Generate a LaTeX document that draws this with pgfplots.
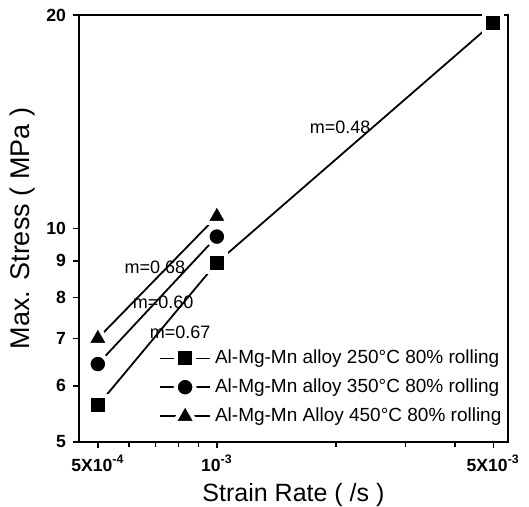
\documentclass[border=0pt]{standalone}
\usepackage{pgfplots}
\pgfplotsset{compat=1.18}
\usepackage{fontspec}
\setmainfont{Liberation Sans}

\begin{document}
\begin{tikzpicture}
\begin{axis}[
  xmode=log, ymode=log,
  scale only axis, width=214.5pt, height=213.5pt,
  xmin=4.48e-4, xmax=5.45e-3, ymin=5, ymax=20,
  xtick={5e-4,1e-3,5e-3},
  xticklabels={5X10\textsuperscript{-4},10\textsuperscript{-3},5X10\textsuperscript{-3}},
  minor xtick={6e-4,7e-4,8e-4,9e-4,2e-3,3e-3,4e-3},
  ytick={5,6,7,8,9,10,20}, yticklabels={5,6,7,8,9,10,20},
  minor ytick={},
  xtick pos=bottom, ytick pos=left, tick align=outside,
  major tick length=3pt, minor tick length=2.5pt,
  tick style={black, line width=0.7pt},
  axis line style={line width=0.8pt},
  axis on top,
  tick label style={font=\fontsize{8.8}{10}\selectfont\bfseries},
  xlabel={Strain Rate ( /s )}, ylabel={Max. Stress ( MPa )},
  xlabel style={font=\fontsize{12.5}{14}\selectfont, yshift=1pt},
  ylabel style={font=\fontsize{13.5}{15}\selectfont, yshift=-1pt},
  legend cell align=left,
  legend style={at={(0.995,0.03)}, anchor=south east, draw=none, fill=none,
    font=\fontsize{9.5}{11}\selectfont, row sep=2pt, inner sep=0pt},
  legend image code/.code={\draw[mark repeat=2,mark phase=2,#1] plot coordinates {(0cm,0cm)(0.44cm,0cm)(0.88cm,0cm)};},
]
\addplot[black, line width=0.9pt, mark=square*, mark size=4.5pt, mark options={solid, fill=black, draw=white, line width=2pt}]
  coordinates {(5e-4,5.63) (1e-3,8.95) (5e-3,19.5)};
\addlegendentry{Al-Mg-Mn alloy 250\textdegree C 80\% rolling}
\addplot[black, line width=0.9pt, mark=*, mark size=4.7pt, mark options={solid, fill=black, draw=white, line width=2pt}]
  coordinates {(5e-4,6.44) (1e-3,9.74)};
\addlegendentry{Al-Mg-Mn alloy 350\textdegree C 80\% rolling}
\addplot[black, line width=0.9pt, mark=triangle*, mark size=6.4pt, mark options={solid, fill=black, draw=white, line width=2pt, line join=round}]
  coordinates {(5e-4,7.0) (1e-3,10.4)};
\addlegendentry{Al-Mg-Mn Alloy 450\textdegree C 80\% rolling}
\node[font=\fontsize{9}{10}\selectfont] at (axis cs:2.05e-3,13.9) {m=0.48};
\node[font=\fontsize{9}{10}\selectfont] at (axis cs:6.97e-4,8.81) {m=0.68};
\node[font=\fontsize{9}{10}\selectfont] at (axis cs:7.31e-4,7.88) {m=0.60};
\node[font=\fontsize{9}{10}\selectfont] at (axis cs:8.07e-4,7.15) {m=0.67};
\coordinate (sw) at (rel axis cs:0,0);
\coordinate (ne) at (rel axis cs:1,1);
\end{axis}
\pgfresetboundingbox
\path[use as bounding box] ([shift={(-39.5pt,-32.5pt)}]sw) rectangle ([shift={(10.5pt,7.5pt)}]ne);
\end{tikzpicture}
\end{document}
